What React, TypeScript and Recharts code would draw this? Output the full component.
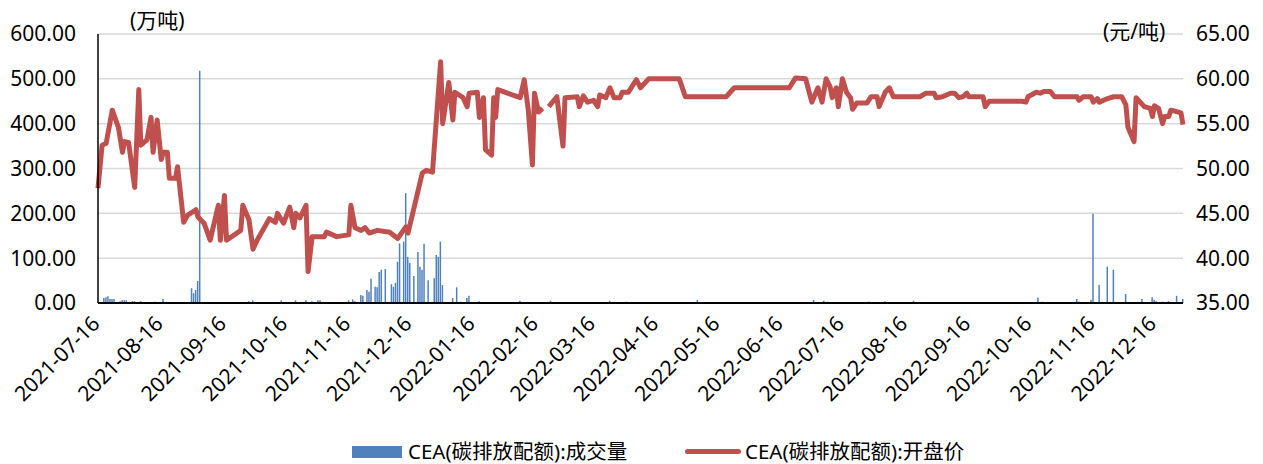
import React from "react";
import { ComposedChart, Bar, Line, XAxis, YAxis, CartesianGrid } from "recharts";

// calendar days counted from 2021-07-16
const openDays = [
  0, 2, 4, 7, 10, 12, 13, 15, 18, 20,
  21, 24, 26, 27, 29, 31, 32, 34, 35, 38,
  39, 42, 44, 48, 49, 52, 55, 59, 60, 62,
  63, 70, 71, 74, 76, 78, 84, 87, 88, 91,
  94, 96, 97, 99, 102, 103, 105, 111, 112, 117,
  123, 124, 126, 129, 131, 133, 137, 143, 147, 151,
  152, 159, 161, 164, 168, 169, 172, 174, 175, 179,
  181, 182, 186, 187, 189, 190, 193, 194, 195, 196,
  207, 209, 211, 213, 214, 216, 218, 219, 221, 225,
  228, 229, 235, 236, 238, 240, 243, 245, 246, 249,
  251, 253, 256, 257, 260, 264, 266, 270, 285, 288,
  308, 312, 339, 342, 347, 350, 353, 355, 357, 359,
  360, 362, 363, 365, 367, 369, 370, 372, 377, 379,
  382, 383, 386, 388, 390, 403, 406, 410, 411, 414,
  418, 420, 422, 424, 426, 427, 434, 435, 437, 453,
  455, 456, 460, 462, 464, 467, 469, 480, 481, 483,
  487, 488, 490, 491, 495, 498, 502, 504, 505, 508,
  509, 511, 513, 516, 517, 518, 520, 522, 523, 525,
  526, 528, 531, 532,
];

// 开盘价 (元/吨)
const openPrice: (number | null)[] = [
  47.8, 52.6, 52.8, 56.5, 54.6, 51.8, 53.0, 52.9, 47.9, 58.8,
  52.6, 53.2, 55.7, 51.8, 55.4, 51.0, 51.8, 51.8, 48.9, 48.9,
  50.2, 44.0, 44.8, 45.4, 44.6, 43.9, 42.0, 45.9, 42.0, 47.0,
  42.0, 43.1, 45.9, 44.3, 41.0, 42.0, 44.4, 44.0, 45.0, 43.9,
  45.7, 43.4, 45.0, 44.5, 45.9, 38.5, 42.4, 42.4, 42.9, 42.4,
  42.6, 45.9, 43.4, 43.1, 43.4, 42.8, 43.1, 42.9, 42.2, 43.5,
  42.8, 49.5, 49.8, 49.6, 61.9, 55.0, 59.6, 55.4, 58.5, 57.9,
  56.9, 58.4, 58.5, 55.7, 57.9, 52.1, 51.5, 57.9, 55.7, 58.8,
  57.9, 59.9, 56.5, 50.4, 58.4, 56.3, 56.7, null, 56.9, 58.0,
  52.5, 57.9, 58.0, 56.9, 58.1, 57.4, 57.6, 56.9, 58.2, 57.9,
  59.0, 57.9, 57.9, 58.5, 58.5, 59.9, 59.0, 60.0, 60.0, 58.0,
  58.0, 59.0, 59.0, 60.1, 60.0, 57.4, 59.0, 57.4, 60.0, 59.1,
  57.9, 59.0, 56.9, 60.0, 58.5, 57.9, 56.6, 57.3, 57.3, 58.0,
  58.0, 56.9, 58.5, 59.0, 58.0, 58.0, 58.4, 58.4, 57.9, 58.0,
  58.4, 58.4, 57.9, 58.0, 58.4, 58.0, 58.0, 56.9, 57.5, 57.5,
  57.4, 58.0, 58.5, 58.4, 58.6, 58.6, 58.0, 58.0, 57.6, 58.0,
  58.0, 57.4, 57.8, 57.4, 57.8, 58.0, 58.0, 57.1, 54.6, 53.0,
  57.9, 57.4, 56.9, 56.7, 55.8, 57.0, 56.7, 55.0, 55.8, 55.8,
  56.5, 56.4, 56.2, 54.9,
];

// calendar days counted from 2021-07-16
const volumeDays = [
  3, 4, 5, 6, 7, 8, 11, 12, 13, 14,
  17, 18, 21, 28, 32, 41, 46, 47, 48, 49,
  50, 74, 76, 90, 97, 99, 102, 105, 108, 109,
  113, 116, 118, 123, 125, 126, 129, 130, 132, 133,
  134, 136, 137, 138, 139, 141, 144, 145, 146, 147,
  148, 150, 151, 152, 153, 155, 157, 158, 159, 160,
  162, 165, 166, 167, 168, 169, 174, 176, 178, 181,
  182, 187, 207, 222, 251, 259, 286, 294, 351, 356,
  358, 364, 378, 386, 400, 461, 463, 480, 481, 487,
  488, 491, 495, 498, 504, 512, 517, 518, 519, 522,
  525, 529, 532,
];

// 成交量 (万吨)
const volume = [
  11, 13, 15, 9, 9, 9, 4, 6, 6, 6,
  4, 4, 4, 3, 9, 2, 33, 22, 29, 49,
  518, 4, 6, 6, 6, 2, 6, 4, 6, 6,
  2, 2, 2, 6, 8, 4, 18, 16, 29, 25,
  54, 36, 35, 69, 74, 76, 42, 36, 45, 92,
  133, 137, 245, 103, 89, 60, 114, 81, 74, 132,
  51, 55, 107, 103, 137, 40, 11, 35, 3, 11,
  16, 4, 5, 5, 5, 3, 2, 7, 7, 5,
  3, 2, 3, 4, 5, 12, 3, 9, 3, 7,
  199, 40, 81, 74, 20, 9, 13, 7, 4, 3,
  4, 16, 9,
];

const tickDates = [
  "2021-07-16", "2021-08-16", "2021-09-16", "2021-10-16", "2021-11-16", "2021-12-16",
  "2022-01-16", "2022-02-16", "2022-03-16", "2022-04-16", "2022-05-16", "2022-06-16",
  "2022-07-16", "2022-08-16", "2022-09-16", "2022-10-16", "2022-11-16", "2022-12-16",
];
const leftTicks = [0, 100, 200, 300, 400, 500, 600];
const rightTicks = [35, 40, 45, 50, 55, 60, 65];

const START = Date.UTC(2021, 6, 16);
const DAY = 86400000;
const toDay = (s: string) => Math.round((Date.parse(s) - START) / DAY);
const toDate = (d: number) => new Date(START + d * DAY).toISOString().slice(0, 10);
const tickDays = tickDates.map(toDay);

const FONT = "'Noto Sans', 'Noto Sans CJK SC', sans-serif";
const FS = 21;

// merge both series into one table, splitting the price line where a value is missing
const rowMap = new Map<number, any>();
const rowOf = (d: number) => {
  if (!rowMap.has(d)) rowMap.set(d, { day: d });
  return rowMap.get(d);
};
let seg = 0;
openDays.forEach((d, i) => {
  const v = openPrice[i];
  if (v === null) {
    seg += 1;
    return;
  }
  rowOf(d)["p" + seg] = v;
});
const segCount = seg + 1;
volumeDays.forEach((d, i) => {
  rowOf(d).vol = volume[i];
});
const rows = Array.from(rowMap.values()).sort((a, b) => a.day - b.day);

const DateTick = (props: any) => {
  const { x, y, payload } = props;
  const ax = x + 3;
  const ay = y + 20;
  return (
    <text
      x={ax}
      y={ay}
      transform={`rotate(-45 ${ax} ${ay})`}
      textAnchor="end"
      fontSize={FS}
      fontFamily={FONT}
      fill="#000"
    >
      {toDate(payload.value)}
    </text>
  );
};

const legendText: React.CSSProperties = {
  position: "absolute",
  top: 441,
  fontSize: 20.5,
  lineHeight: "20px",
  color: "#000",
  whiteSpace: "nowrap",
};

export default function App() {
  return (
    <div
      style={{
        position: "absolute",
        left: 0,
        top: 0,
        width: 1263,
        height: 464,
        background: "#fff",
        fontFamily: FONT,
      }}
    >
      <ComposedChart width={1263} height={464} data={rows} margin={{ top: 34, right: 0, bottom: 0, left: 0 }}>
        <CartesianGrid yAxisId="left" vertical={false} stroke="#D9D9D9" strokeWidth={1.5} />
        <XAxis
          dataKey="day"
          type="number"
          domain={[0, 532]}
          ticks={tickDays}
          height={161}
          tickLine={false}
          tickSize={0}
          axisLine={{ stroke: "#000", strokeWidth: 2 }}
          tick={<DateTick />}
          interval={0}
        />
        <YAxis
          yAxisId="left"
          domain={[0, 600]}
          ticks={leftTicks}
          width={98}
          tickLine={false}
          tickSize={0}
          tickMargin={22}
          tickFormatter={(v: number) => v.toFixed(2)}
          axisLine={{ stroke: "#000", strokeWidth: 1.5 }}
          tick={{ fill: "#000", fontSize: FS, fontFamily: FONT }}
        />
        <YAxis
          yAxisId="right"
          orientation="right"
          domain={[35, 65]}
          ticks={rightTicks}
          width={80}
          tickLine={false}
          tickSize={0}
          tickMargin={13}
          tickFormatter={(v: number) => v.toFixed(2)}
          axisLine={false}
          tick={{ fill: "#000", fontSize: FS, fontFamily: FONT, textAnchor: "start" }}
        />
        <Bar yAxisId="left" dataKey="vol" fill="#4F81BD" barSize={1.5} isAnimationActive={false} />
        {Array.from({ length: segCount }, (_, i) => (
          <Line
            key={i}
            yAxisId="right"
            dataKey={"p" + i}
            type="linear"
            stroke="#C0504D"
            strokeWidth={5}
            strokeLinejoin="round"
            dot={false}
            activeDot={false}
            connectNulls
            isAnimationActive={false}
          />
        ))}
      </ComposedChart>

      <div style={{ position: "absolute", left: 130, top: 4, fontSize: FS, color: "#000", whiteSpace: "nowrap" }}>
        (万吨)
      </div>
      <div style={{ position: "absolute", left: 1103, top: 15, fontSize: FS, color: "#000", whiteSpace: "nowrap" }}>
        (元/吨)
      </div>

      <div style={{ position: "absolute", left: 352, top: 446, width: 50, height: 12, background: "#4F81BD" }} />
      <div style={{ ...legendText, left: 408 }}>CEA(碳排放配额):成交量</div>
      <div
        style={{
          position: "absolute",
          left: 685,
          top: 449,
          width: 56,
          height: 5,
          borderRadius: 3,
          background: "#C0504D",
        }}
      />
      <div style={{ ...legendText, left: 745 }}>CEA(碳排放配额):开盘价</div>
    </div>
  );
}
